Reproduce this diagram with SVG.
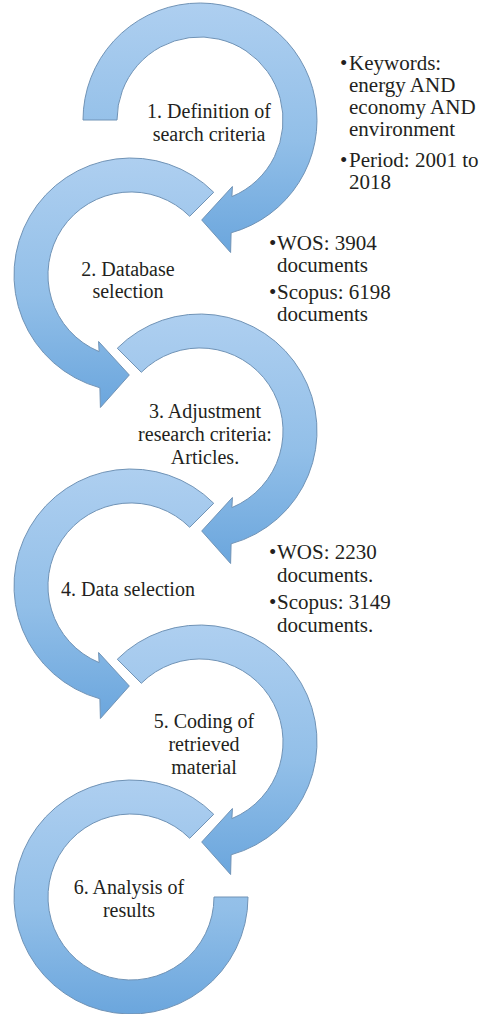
<svg xmlns="http://www.w3.org/2000/svg" width="480" height="1014" viewBox="0 0 480 1014">
<defs>
<linearGradient id="g" x1="0" y1="0" x2="0" y2="1">
<stop offset="0" stop-color="#aecff0"/>
<stop offset="0.55" stop-color="#92bfe8"/>
<stop offset="1" stop-color="#6ba6dd"/>
</linearGradient>
</defs>
<style>
.arr{fill:url(#g);stroke:#7093b6;stroke-width:1;stroke-linejoin:round}
.lbl{font-family:"Liberation Serif","Times New Roman",serif;font-size:20px;fill:#231f20;text-anchor:middle}
.note{font-family:"Liberation Serif","Times New Roman",serif;font-size:21px;fill:#231f20}
</style>
<rect width="480" height="1014" fill="#ffffff"/>
<g id="step1">
<path class="arr" d="M83,120 A117,117 0 1 1 231.1,232.8 L230.6,252.5 L201.7,220 L232.4,186.5 L231.9,196.6 A83,83 0 1 0 117,120 Z"/>
<text class="lbl" x="209" y="118">1. Definition of</text>
<text class="lbl" x="209" y="141">search criteria</text>
</g>
<g id="step2">
<path class="arr" d="M213.73,192.27 A117,117 0 1 0 99.9,387.8 L100.4,407.5 L129.3,375 L98.6,341.5 L99.1,351.6 A83,83 0 1 1 189.69,216.31 Z"/>
<text class="lbl" x="128" y="276">2. Database</text>
<text class="lbl" x="128" y="298">selection</text>
</g>
<g id="step3">
<path class="arr" d="M117.27,348.27 A117,117 0 1 1 231.1,543.8 L230.6,563.5 L201.7,531 L232.4,497.5 L231.9,507.6 A83,83 0 1 0 141.31,372.31 Z"/>
<text class="lbl" x="205" y="418">3. Adjustment</text>
<text class="lbl" x="205" y="441">research criteria:</text>
<text class="lbl" x="205" y="464">Articles.</text>
</g>
<g id="step4">
<path class="arr" d="M213.73,503.27 A117,117 0 1 0 99.9,698.8 L100.4,718.5 L129.3,686 L98.6,652.5 L99.1,662.6 A83,83 0 1 1 189.69,527.31 Z"/>
<text class="lbl" x="128" y="596">4. Data selection</text>
</g>
<g id="step5">
<path class="arr" d="M117.27,659.27 A117,117 0 1 1 231.1,854.8 L230.6,874.5 L201.7,842 L232.4,808.5 L231.9,818.6 A83,83 0 1 0 141.31,683.31 Z"/>
<text class="lbl" x="204" y="728">5. Coding of</text>
<text class="lbl" x="204" y="751">retrieved</text>
<text class="lbl" x="204" y="774">material</text>
</g>
<g id="step6">
<path class="arr" d="M213.73,814.27 A117,117 0 1 0 248,897 L214,897 A83,83 0 1 1 189.69,838.31 Z"/>
<text class="lbl" x="129" y="894">6. Analysis of</text>
<text class="lbl" x="129" y="917">results</text>
</g>
<g id="note1">
<text class="note"><tspan x="340" y="70">•</tspan><tspan x="349" y="70">Keywords:</tspan><tspan x="349" y="92">energy AND</tspan><tspan x="349" y="114">economy AND</tspan><tspan x="349" y="136">environment</tspan><tspan x="340" y="167">•</tspan><tspan x="349" y="167">Period: 2001 to</tspan><tspan x="349" y="189">2018</tspan></text>
</g>
<g id="note2">
<text class="note"><tspan x="269" y="250">•</tspan><tspan x="277" y="250">WOS: 3904</tspan><tspan x="277" y="272">documents</tspan><tspan x="269" y="299">•</tspan><tspan x="277" y="299">Scopus: 6198</tspan><tspan x="277" y="321">documents</tspan></text>
</g>
<g id="note3">
<text class="note"><tspan x="269" y="559">•</tspan><tspan x="277" y="559">WOS: 2230</tspan><tspan x="277" y="582">documents.</tspan><tspan x="269" y="609">•</tspan><tspan x="277" y="609">Scopus: 3149</tspan><tspan x="277" y="632">documents.</tspan></text>
</g>
</svg>
